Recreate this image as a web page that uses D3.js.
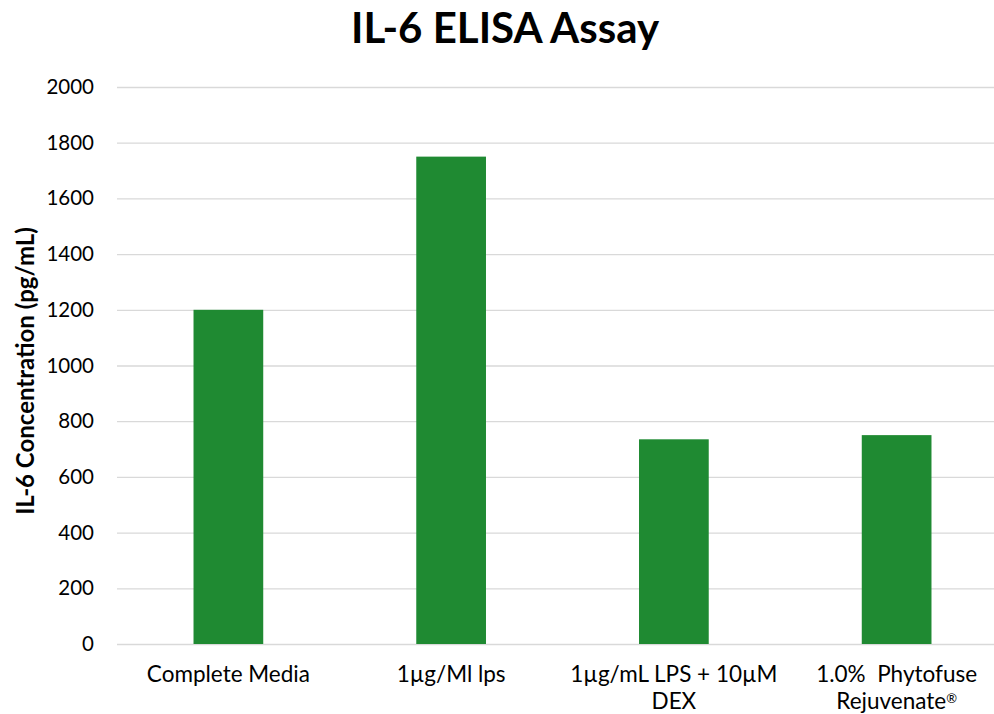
<!DOCTYPE html>
<html>
<head>
<meta charset="utf-8">
<script src="https://cdn.jsdelivr.net/npm/d3@7"></script>
<style>
  html, body { margin: 0; padding: 0; background: #fff; }
  svg { display: block; font-family: Lato, "Open Sans", sans-serif; }
</style>
</head>
<body>
<svg id="chart" width="994" height="714"></svg>
<script>
// IL-6 concentration by treatment
const categories = [
  ["Complete Media"],
  ["1\u00b5g/Ml lps"],
  ["1\u00b5g/mL LPS + 10\u00b5M", "DEX"],
  ["1.0%  Phytofuse", "Rejuvenate\u00ae"]
];
const values = [1200, 1750, 735, 750];
const yTicks = [0, 200, 400, 600, 800, 1000, 1200, 1400, 1600, 1800, 2000];

const svg = d3.select("#chart");
const plot = { left: 117, right: 1008, top: 87, bottom: 644 };

const x = d3.scaleBand()
  .domain(d3.range(categories.length))
  .range([plot.left, plot.right])
  .paddingInner(0.687)
  .paddingOuter(0.3435);

const y = d3.scaleLinear().domain([0, 2000]).range([plot.bottom, plot.top]);

// gridlines
svg.append("g")
  .selectAll("line")
  .data(yTicks)
  .join("line")
  .attr("x1", plot.left).attr("x2", plot.right)
  .attr("y1", d => y(d) + 0.5).attr("y2", d => y(d) + 0.5)
  .attr("stroke", "#d9d9d9").attr("stroke-width", 1.3);

// y tick labels
const yAxis = d3.axisLeft(y).tickValues(yTicks).tickFormat(d3.format("d")).tickSize(0).tickPadding(0);
const yg = svg.append("g").attr("transform", `translate(94,0)`).call(yAxis);
yg.select(".domain").remove();
yg.selectAll("text")
  .attr("font-family", "Lato, 'Open Sans', sans-serif")
  .attr("font-size", 20.5).attr("fill", "#000");

// bars
svg.append("g")
  .selectAll("rect")
  .data(values)
  .join("rect")
  .attr("x", (d, i) => x(i))
  .attr("width", x.bandwidth())
  .attr("y", d => y(d))
  .attr("height", d => y(0) - y(d))
  .attr("fill", "#1f8a32");

// category labels
const xl = svg.append("g")
  .selectAll("text")
  .data(categories)
  .join("text")
  .attr("text-anchor", "middle")
  .attr("font-size", 22.5)
  .attr("fill", "#000")
  .style("white-space", "pre")
  .attr("transform", (d, i) => `translate(${x(i) + x.bandwidth() / 2},682)`);
xl.each(function(lines) {
  const t = d3.select(this);
  lines.forEach((line, j) => {
    const ts = t.append("tspan").attr("x", 0).attr("dy", j === 0 ? 0 : 27);
    const m = line.match(/^(.*)(\u00ae)$/);
    if (m) {
      ts.text(m[1]);
      t.append("tspan").attr("font-size", 13).attr("dy", -6).text(m[2]);
    } else {
      ts.text(line);
    }
  });
});

// y axis title
svg.append("text")
  .attr("transform", "translate(34,371) rotate(-90)")
  .attr("text-anchor", "middle")
  .attr("font-size", 24)
  .attr("font-weight", "bold")
  .attr("fill", "#000")
  .text("IL-6 Concentration (pg/mL)");

// chart title
svg.append("text")
  .attr("x", 505).attr("y", 43)
  .attr("text-anchor", "middle")
  .attr("font-size", 42)
  .attr("font-weight", "bold")
  .attr("fill", "#000")
  .text("IL-6 ELISA Assay");
</script>
</body>
</html>
